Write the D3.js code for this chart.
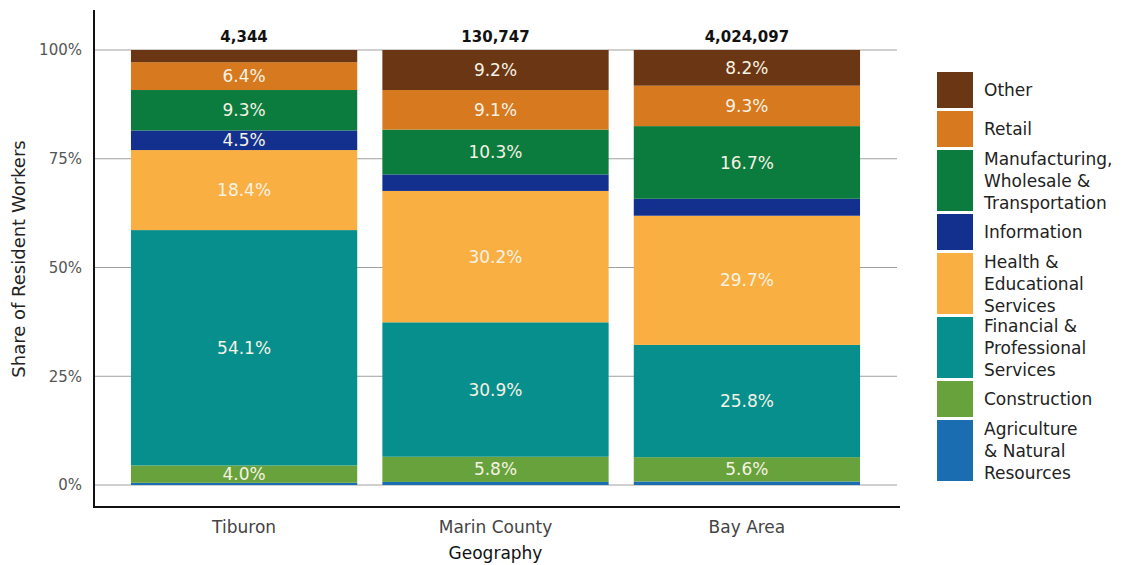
<!DOCTYPE html>
<html>
<head>
<meta charset="utf-8">
<script src="https://cdn.jsdelivr.net/npm/d3@7"></script>
<style>
  html, body { margin: 0; padding: 0; background: #fff; }
  svg { display: block; font-family: "DejaVu Sans", sans-serif; }
</style>
</head>
<body>
<svg id="chart" width="1128" height="565"></svg>
<script>
// ---- data ----
const geographies = ["Tiburon", "Marin County", "Bay Area"];
const totals = ["4,344", "130,747", "4,024,097"];
const industries = [
  "Agriculture & Natural Resources",
  "Construction",
  "Financial & Professional Services",
  "Health & Educational Services",
  "Information",
  "Manufacturing, Wholesale & Transportation",
  "Retail",
  "Other"
];
const legendLines = [
  ["Agriculture", "& Natural", "Resources"],
  ["Construction"],
  ["Financial &", "Professional", "Services"],
  ["Health &", "Educational", "Services"],
  ["Information"],
  ["Manufacturing,", "Wholesale &", "Transportation"],
  ["Retail"],
  ["Other"]
];
const colors = ["#1b6db1", "#67a23c", "#078f8d", "#f9af42", "#13308f", "#0b7c3e", "#d6791f", "#6b3613"];
const tiburon = [0.5, 4.0, 54.1, 18.4, 4.5, 9.3, 6.4, 2.8];
const marin   = [0.7, 5.8, 30.9, 30.2, 3.8, 10.3, 9.1, 9.2];
const bayArea = [0.8, 5.6, 25.8, 29.7, 3.9, 16.7, 9.3, 8.2];
const yTicks = [0, 25, 50, 75, 100];

// ---- build ----
const seriesValues = [tiburon, marin, bayArea];
const rows = geographies.map((g, i) => {
  const r = { geo: g };
  industries.forEach((k, j) => r[k] = seriesValues[i][j]);
  return r;
});

const svg = d3.select("#chart");
const plotLeft = 94, plotRight = 897, yTop = 50, yBottom = 485;

const x = d3.scaleBand().domain(geographies).range([plotLeft, plotRight])
  .paddingInner(0.1).paddingOuter(0.147);
const y = d3.scaleLinear().domain([0, 100]).range([yBottom, yTop]);
const color = d3.scaleOrdinal().domain(industries).range(colors);

// gridlines
svg.append("g").selectAll("line").data(yTicks).join("line")
  .attr("x1", plotLeft).attr("x2", plotRight)
  .attr("y1", d => y(d)).attr("y2", d => y(d))
  .attr("stroke", "#a0a0a0").attr("stroke-width", 1);

// stacked bars
const stacked = d3.stack().keys(industries)(rows);
const layers = svg.append("g").selectAll("g").data(stacked).join("g")
  .attr("fill", d => color(d.key));
layers.selectAll("rect").data(d => d).join("rect")
  .attr("x", d => x(d.data.geo))
  .attr("width", x.bandwidth())
  .attr("y", d => y(d[1]))
  .attr("height", d => y(d[0]) - y(d[1]));

// value labels
const labelG = svg.append("g");
stacked.forEach(layer => {
  layer.forEach(d => {
    const v = d[1] - d[0];
    if (v >= 4.0 - 1e-9) {
      labelG.append("text")
        .attr("x", x(d.data.geo) + x.bandwidth() / 2)
        .attr("y", (y(d[0]) + y(d[1])) / 2)
        .attr("dy", "0.36em")
        .attr("text-anchor", "middle")
        .attr("font-size", 17)
        .attr("fill", "#f6f2e4")
        .text(v.toFixed(1) + "%");
    }
  });
});

// totals on top
svg.append("g").selectAll("text").data(geographies).join("text")
  .attr("x", d => x(d) + x.bandwidth() / 2)
  .attr("y", 42)
  .attr("text-anchor", "middle")
  .attr("font-size", 15)
  .attr("font-weight", "bold")
  .attr("fill", "#111")
  .text((d, i) => totals[i]);

// y axis
const yAxis = d3.axisLeft(y).tickValues(yTicks).tickFormat(d => d + "%").tickSize(0).tickPadding(12);
const yg = svg.append("g").attr("transform", `translate(${plotLeft},0)`).call(yAxis);
yg.select(".domain").remove();
yg.selectAll("text").attr("font-size", 15).attr("fill", "#555").attr("font-family", "DejaVu Sans, sans-serif");

// x axis labels
const xAxis = d3.axisBottom(x).tickSize(0).tickPadding(14);
const xg = svg.append("g").attr("transform", `translate(0,507)`).call(xAxis);
xg.select(".domain").remove();
xg.selectAll("text").attr("font-size", 17).attr("fill", "#444").attr("font-family", "DejaVu Sans, sans-serif");

// axis lines
svg.append("line").attr("x1", plotLeft).attr("x2", plotLeft).attr("y1", 10).attr("y2", 508)
  .attr("stroke", "#111").attr("stroke-width", 2);
svg.append("line").attr("x1", plotLeft - 1).attr("x2", 900).attr("y1", 507).attr("y2", 507)
  .attr("stroke", "#111").attr("stroke-width", 2);

// axis titles
svg.append("text")
  .attr("transform", `translate(25,259) rotate(-90)`)
  .attr("text-anchor", "middle")
  .attr("font-size", 18)
  .attr("fill", "#222")
  .text("Share of Resident Workers");
svg.append("text")
  .attr("x", (plotLeft + plotRight) / 2)
  .attr("y", 559)
  .attr("text-anchor", "middle")
  .attr("font-size", 17)
  .attr("fill", "#111")
  .text("Geography");

// legend (top to bottom: reverse order)
const legendOrder = industries.map((k, i) => i).reverse();
let ly = 72;
const legend = svg.append("g");
legendOrder.forEach(i => {
  const lines = legendLines[i];
  const h = 23.5 + 12.5 * lines.length;
  legend.append("rect")
    .attr("x", 937).attr("y", ly).attr("width", 36).attr("height", h)
    .attr("fill", colors[i]);
  const cy = ly + h / 2;
  lines.forEach((t, j) => {
    legend.append("text")
      .attr("x", 984)
      .attr("y", cy + (j - (lines.length - 1) / 2) * 22)
      .attr("dy", "0.36em")
      .attr("font-size", 17)
      .attr("fill", "#222")
      .text(t);
  });
  ly += h + 3;
});
</script>
</body>
</html>
